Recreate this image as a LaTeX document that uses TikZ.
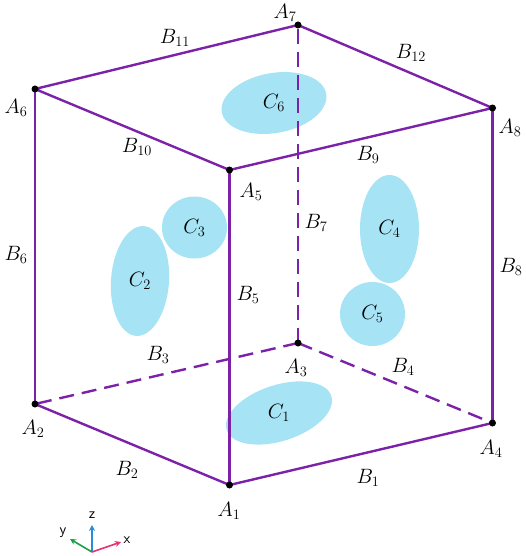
\documentclass[tikz,border=0pt]{standalone}
\usetikzlibrary{shapes.geometric,arrows.meta}
\definecolor{edgepurple}{HTML}{7B22A8}
\definecolor{blobblue}{HTML}{A6E3F4}
\definecolor{axz}{HTML}{2A8BD8}
\definecolor{axy}{HTML}{1E9E4A}
\definecolor{axx}{HTML}{E8336B}
\begin{document}
\begin{tikzpicture}[x=1pt,y=-1pt,
  edge/.style={draw=edgepurple,line width=2.4pt},
  hidden/.style={edge,dash pattern=on 15pt off 8pt},
  vtx/.style={circle,fill=black,inner sep=0pt,minimum size=7pt},
  blob/.style={ellipse,fill=blobblue,inner sep=0pt},
  lab/.style={font=\fontsize{22}{26}\selectfont,inner sep=1pt},
  axis/.style={line width=1.6pt,-{Stealth[length=6pt,width=6pt]}},
  axlab/.style={font=\sffamily\fontsize{15}{17}\selectfont,inner sep=0pt}]
\useasboundingbox (0,0) rectangle (526,556);
% blobs
\node[blob,minimum width=110pt,minimum height=56pt,rotate=18] (c1) at (279,413) {};
\node[blob,minimum width=58pt,minimum height=110pt,rotate=-4] (c2) at (140,281) {};
\node[blob,minimum width=65pt,minimum height=62pt] (c3) at (194.5,227.5) {};
\node[blob,minimum width=59pt,minimum height=108pt] (c4) at (389.5,229) {};
\node[blob,minimum width=65pt,minimum height=64pt] (c5) at (372.5,314) {};
\node[blob,minimum width=106pt,minimum height=60pt,rotate=10] (c6) at (274,103) {};
\node[lab] (lc1) at (c1.center) {$C_1$};
\node[lab] (lc2) at (c2.center) {$C_2$};
\node[lab] (lc3) at (c3.center) {$C_3$};
\node[lab] (lc4) at (c4.center) {$C_4$};
\node[lab] (lc5) at (c5.center) {$C_5$};
\node[lab] (lc6) at (c6.center) {$C_6$};
% vertices
\coordinate (A1) at (229.5,485);
\coordinate (A2) at (35,404);
\coordinate (A3) at (298,343);
\coordinate (A4) at (492.5,423);
\coordinate (A5) at (229.5,170);
\coordinate (A6) at (35,89);
\coordinate (A7) at (298,25);
\coordinate (A8) at (492.5,108);
% hidden edges
\draw[hidden] (A3) -- (A2);
\draw[hidden] (A3) -- (A4);
\draw[hidden] (A3) -- (A7);
% visible edges
\draw[edge] (A4) -- (A1) -- (A2);
\draw[edge] (A1) -- (A5);
\draw[edge] (A2) -- (A6);
\draw[edge] (A4) -- (A8);
\draw[edge] (A6) -- (A7) -- (A8) -- (A5) -- (A6);
% dots
\foreach \v in {A1,A2,A3,A4,A5,A6,A7,A8} \node[vtx] (d\v) at (\v) {};
% vertex labels
\node[lab] (lA1) at (229,511) {$A_1$};
\node[lab] (lA2) at (33,429) {$A_2$};
\node[lab] (lA3) at (296,368) {$A_3$};
\node[lab] (lA4) at (491,449) {$A_4$};
\node[lab] (lA5) at (251,192) {$A_5$};
\node[lab] (lA6) at (16,108) {$A_6$};
\node[lab] (lA7) at (285,13) {$A_7$};
\node[lab] (lA8) at (510,128) {$A_8$};
% edge labels
\node[lab] (lB1) at (368,478) {$B_1$};
\node[lab] (lB2) at (127,470) {$B_2$};
\node[lab] (lB3) at (158,355) {$B_3$};
\node[lab] (lB4) at (403,367) {$B_4$};
\node[lab] (lB5) at (248,295) {$B_5$};
\node[lab] (lB6) at (16,255) {$B_6$};
\node[lab] (lB7) at (316,223) {$B_7$};
\node[lab] (lB8) at (511,267) {$B_8$};
\node[lab] (lB9) at (368,155) {$B_9$};
\node[lab] (lB10) at (137,147) {$B_{10}$};
\node[lab] (lB11) at (175,38) {$B_{11}$};
\node[lab] (lB12) at (411,53) {$B_{12}$};
% axis icon
\coordinate (O) at (92,552);
\coordinate (zt) at (92,525);
\coordinate (yt) at (70,539);
\coordinate (xt) at (121,542);
\draw[axis,axz] (O) -- (zt);
\draw[axis,axy] (O) -- (yt);
\draw[axis,axx] (O) -- (xt);
\node[axlab] (lz) at (92,515) {z};
\node[axlab] (ly) at (63,533) {y};
\node[axlab] (lx) at (127,540) {x};
\end{tikzpicture}
\end{document}
